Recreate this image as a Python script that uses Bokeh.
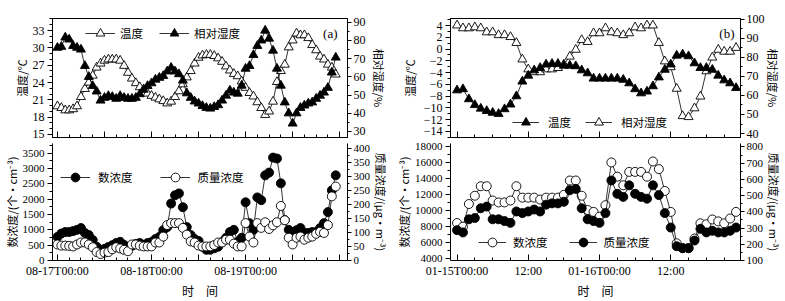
from bokeh.plotting import figure
from bokeh.models import Range1d, LinearAxis, FixedTicker, Legend, LegendItem, Label
from bokeh.layouts import row, column
from bokeh.embed import file_html
from bokeh.resources import INLINE

CJK = "Noto Sans CJK SC"
SERIF = "Liberation Serif"

# ---------------- data: panel (a), hourly from 08-17T00:00 ----------------
hours_a = list(range(72))
temp_a = [19.9, 19.6, 19.2, 19.2, 19.4, 19.9, 21.5, 22.9, 24.0, 25.2, 26.6, 27.3,
          27.8, 28.0, 28.0, 28.0, 27.8, 26.9, 25.7, 24.7, 23.9, 23.2, 22.8, 22.1,
          21.7, 21.4, 21.1, 20.8, 20.4, 20.7, 21.5, 22.5, 23.7, 24.9, 26.0, 27.3,
          28.3, 28.7, 28.8, 28.8, 28.6, 28.2, 27.6, 26.8, 26.1, 25.5, 25.1, 24.2,
          23.1, 22.2, 21.6, 20.6, 19.6, 18.4, 19.0, 20.7, 24.1, 26.0, 27.1, 30.1,
          31.3, 32.5, 32.2, 32.2, 31.7, 30.5, 29.6, 28.5, 28.0, 27.1, 26.6, 25.4]
rh_a = [76, 76.5, 81.6, 80.5, 77, 76, 75, 66, 60, 55, 52, 47,
        48.5, 49.5, 49, 48, 49.5, 48.5, 48, 48, 48.5, 50.5, 53, 55,
        56.5, 58.5, 59.5, 60.5, 63, 65, 63, 61.5, 58, 51, 48.5, 46.5,
        45.4, 44, 43, 42.6, 43.5, 44.5, 47, 49.7, 52.5, 51.4, 50.8, 55.2,
        64.5, 66, 72, 77, 80, 85.4, 81, 74.4, 64.5, 55.2, 46, 40,
        34.4, 40, 43, 44.3, 45.4, 46, 48, 49.7, 51.4, 54, 62.4, 70.6]
num_a = [770, 880, 930, 930, 960, 1000, 1060, 900, 830, 670, 450, 350,
         380, 440, 500, 570, 610, 510, 450, 480, 540, 570, 510, 570,
         600, 700, 770, 990, 1090, 1860, 2130, 2190, 1740, 1090, 830, 700,
         640, 450, 350, 350, 400, 450, 600, 740, 930, 1000, 610, 740,
         1900, 1220, 1000, 2060, 1970, 2780, 2870, 3360, 3330, 2520, 1320, 1000,
         830, 990, 1060, 900, 900, 930, 930, 1060, 1220, 1580, 2290, 2780]
mass_a = [57, 53, 53, 52, 50, 57, 64, 64, 57, 47, 30, 23,
          28, 30, 40, 47, 43, 38, 33, 57, 57, 53, 50, 50,
          50, 64, 64, 85, 126, 133, 133, 133, 116, 92, 68, 64,
          53, 50, 50, 50, 55, 64, 64, 74, 74, 60, 50, 50,
          133, 85, 64, 133, 116, 136, 112, 125, 136, 194, 143, 81,
          57, 81, 85, 74, 81, 85, 95, 102, 98, 126, 228, 263]

# ---------------- data: panel (b), hourly from 01-15T00:00 ----------------
hours_b = list(range(48))
temp_b = [-7.0, -6.8, -8.5, -9.5, -10.1, -10.5, -10.8, -11.0, -10.2, -9.4, -8.0, -5.5,
          -4.5, -3.6, -3.2, -2.6, -2.5, -2.5, -2.8, -2.8, -2.9, -3.6, -4.1, -5.0,
          -5.0, -5.0, -5.0, -5.0, -5.2, -5.8, -6.8, -7.5, -7.2, -6.3, -4.8, -3.5,
          -2.6, -1.1, -0.9, -1.2, -2.4, -3.2, -3.2, -3.5, -4.5, -5.3, -5.8, -6.6]
rh_b = [96.9, 95.4, 95.4, 95.9, 95.4, 93.3, 93.3, 91.8, 91.8, 90.8, 87.7, 79.0,
        73.8, 72.3, 72.3, 73.8, 73.8, 74.5, 76.4, 80.5, 84.1, 89.2, 88.2, 92.8,
        92.8, 95.4, 93.3, 92.8, 91.8, 92.8, 95.9, 95.4, 96.9, 96.9, 87.7, 78.0,
        74.9, 63.6, 49.2, 48.7, 53.3, 59.5, 72.8, 80.0, 84.1, 83.1, 83.1, 85.1]
num_b = [8450, 8000, 10840, 11880, 13070, 13070, 11280, 11040, 11040, 11280, 13070, 11640,
         11640, 11640, 11400, 11640, 11640, 11640, 12000, 13790, 13790, 11880, 10090, 9850,
         9250, 10690, 16060, 14270, 13190, 14870, 14870, 14870, 14270, 16180, 15220, 12480,
         9850, 5910, 5310, 5310, 6510, 8420, 8300, 8900, 8660, 8420, 9020, 9850]
mass_b = [287, 273, 354, 362, 422, 432, 354, 354, 343, 332, 402, 392,
          402, 414, 402, 444, 452, 452, 462, 533, 541, 422, 354, 343,
          332, 392, 593, 511, 492, 563, 511, 492, 481, 563, 503, 392,
          303, 188, 176, 176, 223, 295, 273, 283, 273, 273, 283, 303]

# ---------------- tick labels ----------------
xticks_a = [0, 12, 24, 36, 48, 60, 72]
xminor_a = list(range(0, 75, 3))
xlabels_a = {0: "08-17T00:00", 12: "", 24: "08-18T00:00", 36: "", 48: "08-19T00:00", 60: "", 72: ""}
xticks_b = [0, 12, 24, 36]
xminor_b = list(range(0, 48, 3))
xlabels_b = {0: "01-15T00:00", 12: "12:00", 24: "01-16T00:00", 36: "12:00"}


def base_fig(w, h, mb, xr, yl, yr, outline):
    p = figure(width=w, height=h, x_range=Range1d(*xr), y_range=Range1d(*yl),
               output_backend="svg", toolbar_location=None,
               min_border_left=mb[0], min_border_right=mb[1],
               min_border_top=mb[2], min_border_bottom=mb[3])
    p.extra_y_ranges = {"r": Range1d(*yr)}
    p.xgrid.grid_line_color = None
    p.ygrid.grid_line_color = None
    p.background_fill_color = "white"
    p.border_fill_color = "white"
    p.outline_line_color = "black" if outline else None
    p.outline_line_width = 1
    p.add_layout(LinearAxis(y_range_name="r"), "right")
    return p


def style_y(ax, major, minor, fs, title, standoff, right=False):
    ax.ticker = FixedTicker(ticks=major, minor_ticks=minor)
    ax.major_tick_in = 0
    ax.major_tick_out = 4 if right else 5
    ax.minor_tick_in = 0
    ax.minor_tick_out = 2 if right else 3
    ax.major_label_standoff = 2 if right else 3
    ax.major_label_text_font = SERIF
    ax.major_label_text_font_size = fs
    ax.major_label_text_color = "black"
    ax.axis_line_color = "black"
    ax.major_tick_line_color = "black"
    ax.minor_tick_line_color = "black"
    ax.axis_label = title
    ax.axis_label_text_font = CJK
    ax.axis_label_text_font_size = "11px"
    ax.axis_label_text_font_style = "normal"
    ax.axis_label_text_color = "black"
    ax.axis_label_standoff = standoff


def style_x(ax, major, minor, labels):
    ax.ticker = FixedTicker(ticks=major, minor_ticks=minor)
    ax.major_tick_in = 6
    ax.major_tick_out = 0
    ax.minor_tick_in = 3
    ax.minor_tick_out = 0
    ax.axis_line_color = "black"
    ax.major_tick_line_color = "black"
    ax.minor_tick_line_color = "black"
    if labels is None:
        ax.major_label_text_font_size = "0px"
        ax.major_label_standoff = 0
        ax.major_label_overrides = {t: "" for t in major}
    else:
        ax.major_label_overrides = labels
        ax.major_label_text_font = SERIF
        ax.major_label_text_font_size = "12px"
        ax.major_label_text_color = "black"
        ax.major_label_standoff = 3
        ax.axis_label = "时　间"
        ax.axis_label_text_font = CJK
        ax.axis_label_text_font_size = "12px"
        ax.axis_label_text_font_style = "normal"
        ax.axis_label_text_color = "black"
        ax.axis_label_standoff = 1


def series(p, x, y, marker, fill, size, rname="default"):
    l = p.line(x, y, line_color="black", line_width=0.8, y_range_name=rname)
    s = p.scatter(x, y, marker=marker, size=size, fill_color=fill, line_color="black",
                  line_width=0.9, y_range_name=rname)
    return [l, s]


def legend(p, items, loc, spacing, standoff, gw):
    leg = Legend(items=[LegendItem(label=t, renderers=r) for t, r in items],
                 orientation="horizontal", location=loc, glyph_width=gw, glyph_height=22,
                 label_height=16, label_standoff=standoff, spacing=spacing, padding=0, margin=0,
                 background_fill_alpha=0, border_line_alpha=0,
                 label_text_font=CJK, label_text_font_size="11.5px", label_text_color="black")
    p.add_layout(leg)


def corner(p, text, x, y, xo, yo):
    p.add_layout(Label(x=x, y=y, x_offset=xo, y_offset=yo, text=text, text_align="right",
                       text_baseline="middle", text_font=SERIF, text_font_size="13px",
                       text_color="black"))


# ---------------- panel (a) top ----------------
xr_a = (-1.26, 74.0)
fa1 = base_fig(392, 141, (52, 42, 18, 4), xr_a, (14.48, 35.08), (26.7, 92), True)
style_y(fa1.left[0], list(range(15, 34, 3)), list(range(15, 36, 1)), "12px", "温度/℃", 0)
style_y(fa1.right[0], list(range(30, 91, 10)), list(range(30, 92, 5)), "12px", "相对湿度/%", 2, True)
style_x(fa1.below[0], xticks_a, xminor_a, None)
r_t = series(fa1, hours_a, temp_a, "triangle", "white", 9)
r_h = series(fa1, hours_a, rh_a, "triangle", "black", 9, "r")
legend(fa1, [("温度", r_t), ("相对湿度", r_h)], (33, 93), 16, 5, 30)
corner(fa1, "(a)", xr_a[1], 35.08, -10, -15)

# ---------------- panel (a) bottom ----------------
fa2 = base_fig(392, 160, (52, 42, 2, 40), xr_a, (0, 3820), (0, 416), False)
style_y(fa2.left[0], list(range(0, 3501, 500)), list(range(0, 3801, 250)), "11px",
        "数浓度/(个·cm⁻³)", 0)
style_y(fa2.right[0], list(range(0, 401, 50)), list(range(0, 401, 25)), "11px",
        "质量浓度/(μg·m⁻³)", 0, True)
style_x(fa2.below[0], xticks_a, xminor_a, xlabels_a)
r_n = series(fa2, hours_a, num_a, "circle", "black", 9)
r_m = series(fa2, hours_a, mass_a, "circle", "white", 9, "r")
legend(fa2, [("数浓度", r_n), ("质量浓度", r_m)], (8, 72), 27, 8, 30)

# ---------------- panel (b) top ----------------
xr_b = (-1.1, 47.75)
fb1 = base_fig(393, 140, (53, 42, 18, 3), xr_b, (-15.02, 5.19), (37.9, 100.5), True)
style_y(fb1.left[0], list(range(-14, 5, 2)), list(range(-15, 6, 1)), "12px", "温度/℃", 3)
style_y(fb1.right[0], list(range(40, 101, 10)), list(range(40, 101, 5)), "12px",
        "相对湿度/%", -3, True)
style_x(fb1.below[0], xticks_b, xminor_b, None)
r_hb = series(fb1, hours_b, rh_b, "triangle", "white", 9, "r")
r_tb = series(fb1, hours_b, temp_b, "triangle", "black", 9)
legend(fb1, [("温度", r_tb), ("相对湿度", r_hb)], (62, 4), 14, 9, 27)
corner(fb1, "(b)", xr_b[1], 5.19, -6, -15)

# ---------------- panel (b) bottom ----------------
fb2 = base_fig(393, 161, (53, 42, 3, 40), xr_b, (3751, 18435), (100, 821), False)
style_y(fb2.left[0], list(range(4000, 18001, 2000)), list(range(4000, 18001, 1000)), "11px",
        "数浓度/(个·cm⁻³)", 0)
style_y(fb2.right[0], list(range(100, 801, 100)), list(range(100, 801, 50)), "11px",
        "质量浓度/(μg·m⁻³)", 0, True)
style_x(fb2.below[0], xticks_b, xminor_b, xlabels_b)
r_nb = series(fb2, hours_b, num_b, "circle", "white", 9)
r_mb = series(fb2, hours_b, mass_b, "circle", "black", 9, "r")
legend(fb2, [("数浓度", r_nb), ("质量浓度", r_mb)], (28, 7), 21, 7, 28)

layout = row(column(fa1, fa2), column(fb1, fb2))
open("out.html", "w").write(file_html(layout, INLINE))
